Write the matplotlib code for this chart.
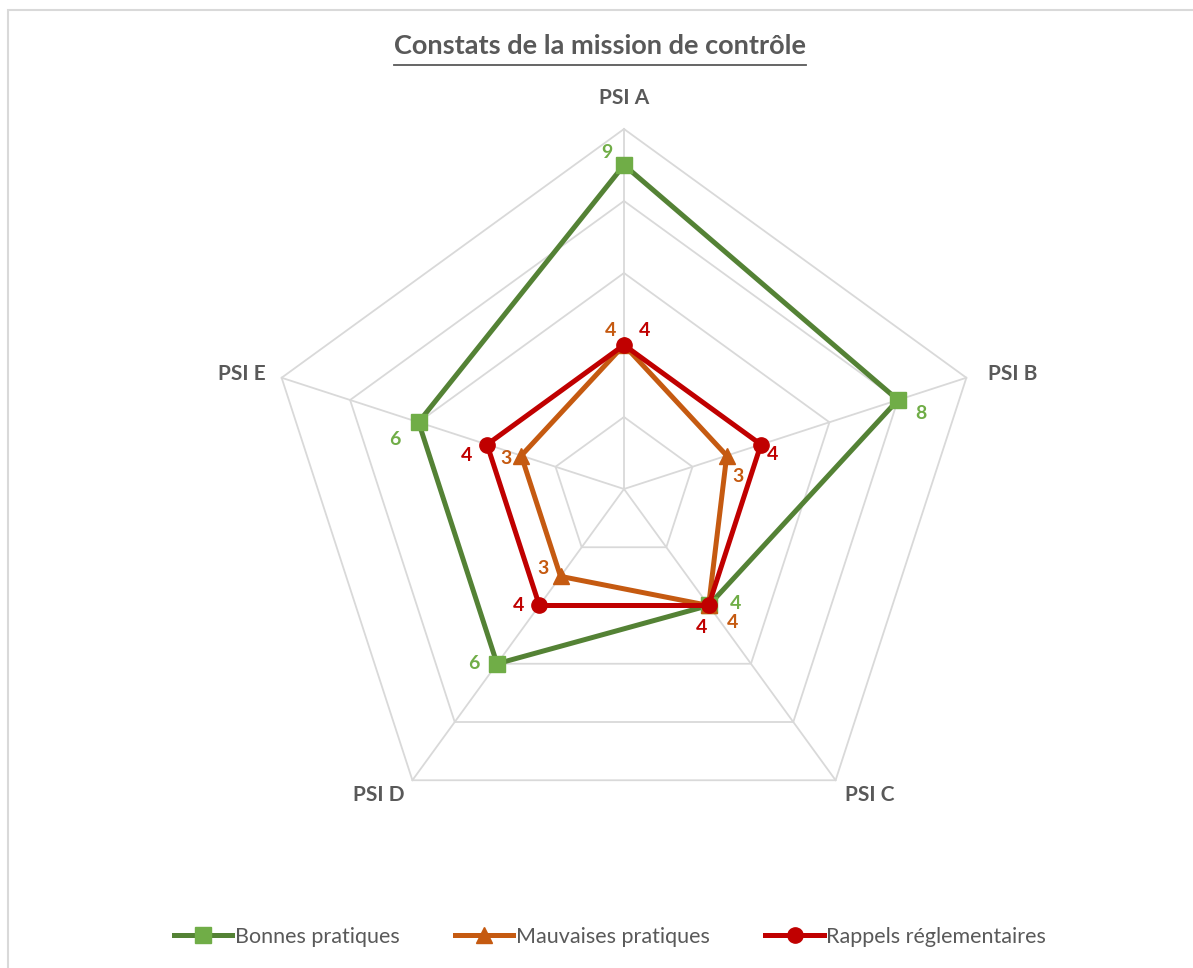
import numpy as np
import matplotlib
matplotlib.use("Agg")
import matplotlib.pyplot as plt
from matplotlib.lines import Line2D
from matplotlib.patches import Rectangle

categories = ["PSI A", "PSI B", "PSI C", "PSI D", "PSI E"]
series_names = ["Bonnes pratiques", "Mauvaises pratiques", "Rappels réglementaires"]
bonnes = [9, 8, 4, 6, 6]
mauvaises = [4, 3, 4, 3, 3]
rappels = [4, 4, 4, 4, 4]

line_colors = ["#548235", "#C55A11", "#C00000"]
marker_colors = ["#70AD47", "#C55A11", "#C00000"]
label_colors = ["#70AD47", "#C55A11", "#C00000"]
markers = ["s", "^", "o"]
# label offsets in pixels (per series, per category)
label_offsets = [
    [(-17, 13), (23, -13), (27, 2), (-23, 0), (-24, -17)],
    [(-13, 14), (11, -21), (24, -17), (-18, 8), (-15, -3)],
    [(21, 14), (12, -10), (-7, -22), (-21, 0), (-21, -11)],
]

plt.rcParams['font.family'] = ['Lato', 'DejaVu Sans']
GRAY = "#595959"
GRID = "#D9D9D9"

W, H = 1193, 968
fig = plt.figure(figsize=(W / 100, H / 100), dpi=100)
fig.patch.set_facecolor("white")

cx, cy, R = 624, 489, 360
ax = fig.add_axes([(cx - R) / W, (H - cy - R) / H, 2 * R / W, 2 * R / H], projection="polar")
ax.set_theta_offset(np.pi / 2)
ax.set_theta_direction(-1)
ax.set_ylim(0, 10)
ax.grid(False)
ax.spines["polar"].set_visible(False)
ax.set_xticks([])
ax.set_yticks([])
ax.patch.set_alpha(0)

n = len(categories)
angles = np.arange(n) * 2 * np.pi / n
closed = np.concatenate([angles, angles[:1]])

# pentagon grid
for r in [2, 4, 6, 8, 10]:
    ax.plot(closed, [r] * (n + 1), color=GRID, lw=1.3, zorder=1, clip_on=False)
for a in angles:
    ax.plot([a, a], [0, 10], color=GRID, lw=1.3, zorder=1, clip_on=False)

all_series = [bonnes, mauvaises, rappels]
for i, vals in enumerate(all_series):
    v = list(vals) + [vals[0]]
    ax.plot(closed, v, color=line_colors[i], lw=3.6, zorder=3 + i, clip_on=False)
    ax.plot(angles, vals, linestyle="none", marker=markers[i], markersize=11,
            markerfacecolor=marker_colors[i], markeredgecolor=marker_colors[i],
            zorder=3 + i, clip_on=False)
    for j, val in enumerate(vals):
        ax.annotate(str(val), (angles[j], val), xytext=label_offsets[i][j],
                    textcoords="offset pixels", ha="center", va="center",
                    fontsize=14, fontweight="bold", color=label_colors[i], zorder=10)

# category labels
cat_offsets = [(0, 31), (46, 4), (34, -15), (-34, -15), (-40, 4)]
for j, c in enumerate(categories):
    ax.annotate(c, (angles[j], 10), xytext=cat_offsets[j], textcoords="offset pixels",
                ha="center", va="center", fontsize=15, fontweight="bold", color=GRAY,
                annotation_clip=False)

# title with underline
title = fig.text(600 / W, 1 - 46 / H, "Constats de la mission de contrôle", ha="center",
                 va="center", fontsize=19.5, fontweight="bold", color=GRAY)
fig.canvas.draw()
bb = title.get_window_extent(renderer=fig.canvas.get_renderer())
uy = (H - 65) / H
fig.add_artist(Line2D([bb.x0 / W, bb.x1 / W], [uy, uy], transform=fig.transFigure,
                      color=GRAY, lw=1.3))

# legend
handles = [Line2D([0], [0], color=line_colors[i], lw=3.6, marker=markers[i], markersize=11,
                  markerfacecolor=marker_colors[i], markeredgecolor=marker_colors[i])
           for i in range(3)]
leg = fig.legend(handles, series_names, loc="center", bbox_to_anchor=(610 / W, 1 - 937 / H),
                 ncol=3, frameon=False, fontsize=15.5, handlelength=2.7, handletextpad=0.1,
                 columnspacing=2.6, labelcolor=GRAY)

# chart border
fig.add_artist(Rectangle((8 / W, -0.05), 1.2, 1 - 10 / H + 0.05, transform=fig.transFigure,
                         fill=False, edgecolor=GRID, lw=1.5))

fig.savefig("out.png", dpi=100, facecolor="white")
